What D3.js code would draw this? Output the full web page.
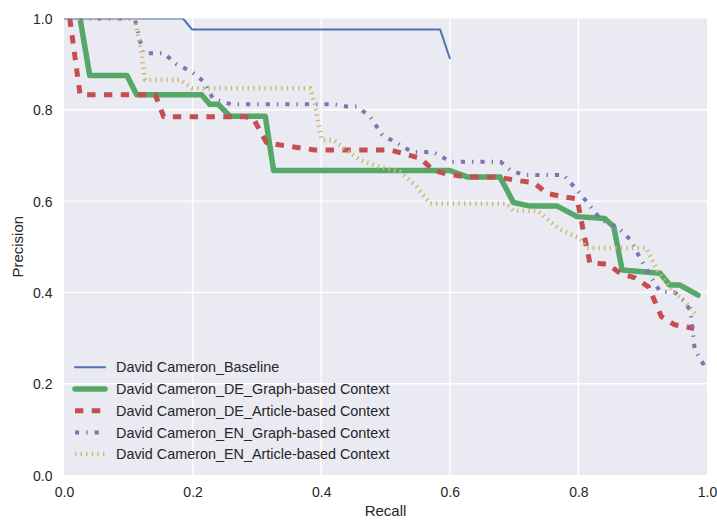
<!DOCTYPE html>
<html>
<head>
<meta charset="utf-8">
<script src="https://cdn.jsdelivr.net/npm/d3@7"></script>
<style>
  html, body { margin: 0; padding: 0; background: #ffffff; }
  svg { display: block; }
  text { font-family: "Liberation Sans", Arial, sans-serif; fill: #262626; }
</style>
</head>
<body>
<svg id="chart" width="717" height="520"></svg>
<script>
// ---- data ----
const seriesNames = [
  "David Cameron_Baseline",
  "David Cameron_DE_Graph-based Context",
  "David Cameron_DE_Article-based Context",
  "David Cameron_EN_Graph-based Context",
  "David Cameron_EN_Article-based Context"
];
const xTicks = [0.0, 0.2, 0.4, 0.6, 0.8, 1.0];
const yTicks = [0.0, 0.2, 0.4, 0.6, 0.8, 1.0];

const baselineRecall    = [0, 0.185, 0.199, 0.585, 0.600];
const baselinePrecision = [1.0, 1.0, 0.976, 0.976, 0.913];

const deGraphRecall    = [0.025, 0.040, 0.098, 0.113, 0.214, 0.227, 0.240, 0.258, 0.313, 0.326, 0.600, 0.627, 0.678, 0.699, 0.725, 0.767, 0.798, 0.841, 0.855, 0.868, 0.927, 0.942, 0.958, 0.986];
const deGraphPrecision = [1.0, 0.875, 0.875, 0.833, 0.833, 0.812, 0.812, 0.786, 0.786, 0.667, 0.667, 0.653, 0.653, 0.597, 0.589, 0.589, 0.566, 0.562, 0.544, 0.449, 0.442, 0.416, 0.416, 0.394];

const deArticleRecall    = [0.009, 0.025, 0.142, 0.155, 0.280, 0.294, 0.315, 0.340, 0.370, 0.390, 0.507, 0.554, 0.574, 0.596, 0.627, 0.673, 0.701, 0.731, 0.751, 0.774, 0.798, 0.808, 0.818, 0.846, 0.865, 0.888, 0.909, 0.919, 0.929, 0.950, 0.980];
const deArticlePrecision = [1.0, 0.833, 0.833, 0.785, 0.785, 0.782, 0.728, 0.722, 0.716, 0.712, 0.712, 0.694, 0.668, 0.659, 0.653, 0.653, 0.646, 0.640, 0.617, 0.610, 0.605, 0.532, 0.464, 0.462, 0.442, 0.432, 0.412, 0.380, 0.347, 0.329, 0.321];

const enGraphRecall    = [0.022, 0.110, 0.123, 0.155, 0.175, 0.199, 0.217, 0.232, 0.260, 0.420, 0.440, 0.456, 0.476, 0.495, 0.518, 0.541, 0.575, 0.601, 0.679, 0.694, 0.715, 0.777, 0.798, 0.819, 0.835, 0.860, 0.881, 0.896, 0.911, 0.927, 0.950, 0.962, 0.974, 0.981, 0.997];
const enGraphPrecision = [1.0, 1.0, 0.924, 0.924, 0.900, 0.883, 0.862, 0.824, 0.812, 0.812, 0.807, 0.807, 0.785, 0.745, 0.727, 0.708, 0.707, 0.686, 0.686, 0.668, 0.657, 0.657, 0.624, 0.588, 0.559, 0.544, 0.515, 0.475, 0.438, 0.402, 0.400, 0.385, 0.361, 0.274, 0.237];

const enArticleRecall    = [0.022, 0.110, 0.120, 0.126, 0.180, 0.199, 0.383, 0.390, 0.401, 0.419, 0.439, 0.460, 0.491, 0.523, 0.548, 0.569, 0.689, 0.699, 0.736, 0.772, 0.803, 0.813, 0.906, 0.916, 0.924, 0.947, 0.968, 0.984];
const enArticlePrecision = [1.0, 1.0, 0.930, 0.866, 0.866, 0.847, 0.847, 0.814, 0.734, 0.734, 0.712, 0.690, 0.675, 0.664, 0.632, 0.595, 0.594, 0.579, 0.579, 0.537, 0.518, 0.497, 0.497, 0.467, 0.445, 0.402, 0.376, 0.350];

const recalls    = [baselineRecall, deGraphRecall, deArticleRecall, enGraphRecall, enArticleRecall];
const precisions = [baselinePrecision, deGraphPrecision, deArticlePrecision, enGraphPrecision, enArticlePrecision];

// ---- styles ----
const colors = ["#4C72B0", "#55A868", "#C44E52", "#8172B2", "#CCB974"];
const widths = [2, 5.5, 5, 4, 4.5];
const dashes = [null, null, "8.4,8.4", "4.2,7,1.4,7", "1.4,4.2"];
const caps   = ["round", "round", "butt", "butt", "butt"];

// ---- layout ----
const svg = d3.select("#chart");
const pL = 64, pR = 707, pT = 18.5, pB = 475;
const x = d3.scaleLinear().domain([0, 1]).range([pL, pR]);
const y = d3.scaleLinear().domain([0, 1]).range([pB, pT]);

svg.append("rect").attr("x", 0).attr("y", 0).attr("width", 717).attr("height", 520).attr("fill", "#ffffff");
svg.append("rect").attr("x", pL).attr("y", pT).attr("width", pR - pL).attr("height", pB - pT).attr("fill", "#EAEAF2");

svg.append("defs").append("clipPath").attr("id", "plotclip")
  .append("rect").attr("x", pL).attr("y", pT).attr("width", pR - pL).attr("height", pB - pT);

// grid
const grid = svg.append("g");
grid.selectAll("line.vx").data(xTicks.slice(1, -1)).enter().append("line")
  .attr("x1", d => x(d)).attr("x2", d => x(d)).attr("y1", pT).attr("y2", pB)
  .attr("stroke", "#ffffff").attr("stroke-width", 1.4);
grid.selectAll("line.hy").data(yTicks.slice(1, -1)).enter().append("line")
  .attr("y1", d => y(d)).attr("y2", d => y(d)).attr("x1", pL).attr("x2", pR)
  .attr("stroke", "#ffffff").attr("stroke-width", 1.4);

// axes (labels only, no tick marks)
const xAxis = d3.axisBottom(x).tickValues(xTicks).tickFormat(d3.format(".1f")).tickSize(0).tickPadding(0);
const gx = svg.append("g").attr("transform", `translate(0,${pB})`).call(xAxis);
gx.select(".domain").remove();
gx.selectAll("text").attr("dy", null).attr("y", 22).style("font-size", "14px")
  .style("font-family", '"Liberation Sans", Arial, sans-serif').attr("fill", "#262626");

const yAxis = d3.axisLeft(y).tickValues(yTicks).tickFormat(d3.format(".1f")).tickSize(0).tickPadding(0);
const gy = svg.append("g").attr("transform", `translate(${pL - 11.5},0)`).call(yAxis);
gy.select(".domain").remove();
gy.selectAll("text").attr("dy", "0.36em").attr("x", 0).style("font-size", "14px")
  .style("font-family", '"Liberation Sans", Arial, sans-serif').attr("fill", "#262626");

svg.append("text").attr("x", (pL + pR) / 2).attr("y", 516).attr("text-anchor", "middle")
  .style("font-size", "15px").text("Recall");
svg.append("text").attr("transform", `translate(23,${(pT + pB) / 2}) rotate(-90)`).attr("text-anchor", "middle")
  .style("font-size", "15px").text("Precision");

// lines
const lineGen = d3.line().x(d => x(d[0])).y(d => y(d[1]));
const lines = svg.append("g").attr("clip-path", "url(#plotclip)");
recalls.forEach((rs, i) => {
  const pts = rs.map((r, j) => [r, precisions[i][j]]);
  lines.append("path").datum(pts).attr("d", lineGen)
    .attr("fill", "none").attr("stroke", colors[i]).attr("stroke-width", widths[i])
    .attr("stroke-dasharray", dashes[i]).attr("stroke-linecap", caps[i]).attr("stroke-linejoin", "round");
});

// legend
const legend = svg.append("g");
const legY0 = 367.3, legDy = 21.7;
seriesNames.forEach((name, i) => {
  const yy = legY0 + i * legDy;
  legend.append("line").attr("x1", 75).attr("x2", 105).attr("y1", yy).attr("y2", yy)
    .attr("stroke", colors[i]).attr("stroke-width", widths[i])
    .attr("stroke-dasharray", dashes[i]).attr("stroke-linecap", caps[i]);
  legend.append("text").attr("x", 116).attr("y", yy).attr("dy", "0.36em")
    .style("font-size", "14.4px").text(name);
});
</script>
</body>
</html>
